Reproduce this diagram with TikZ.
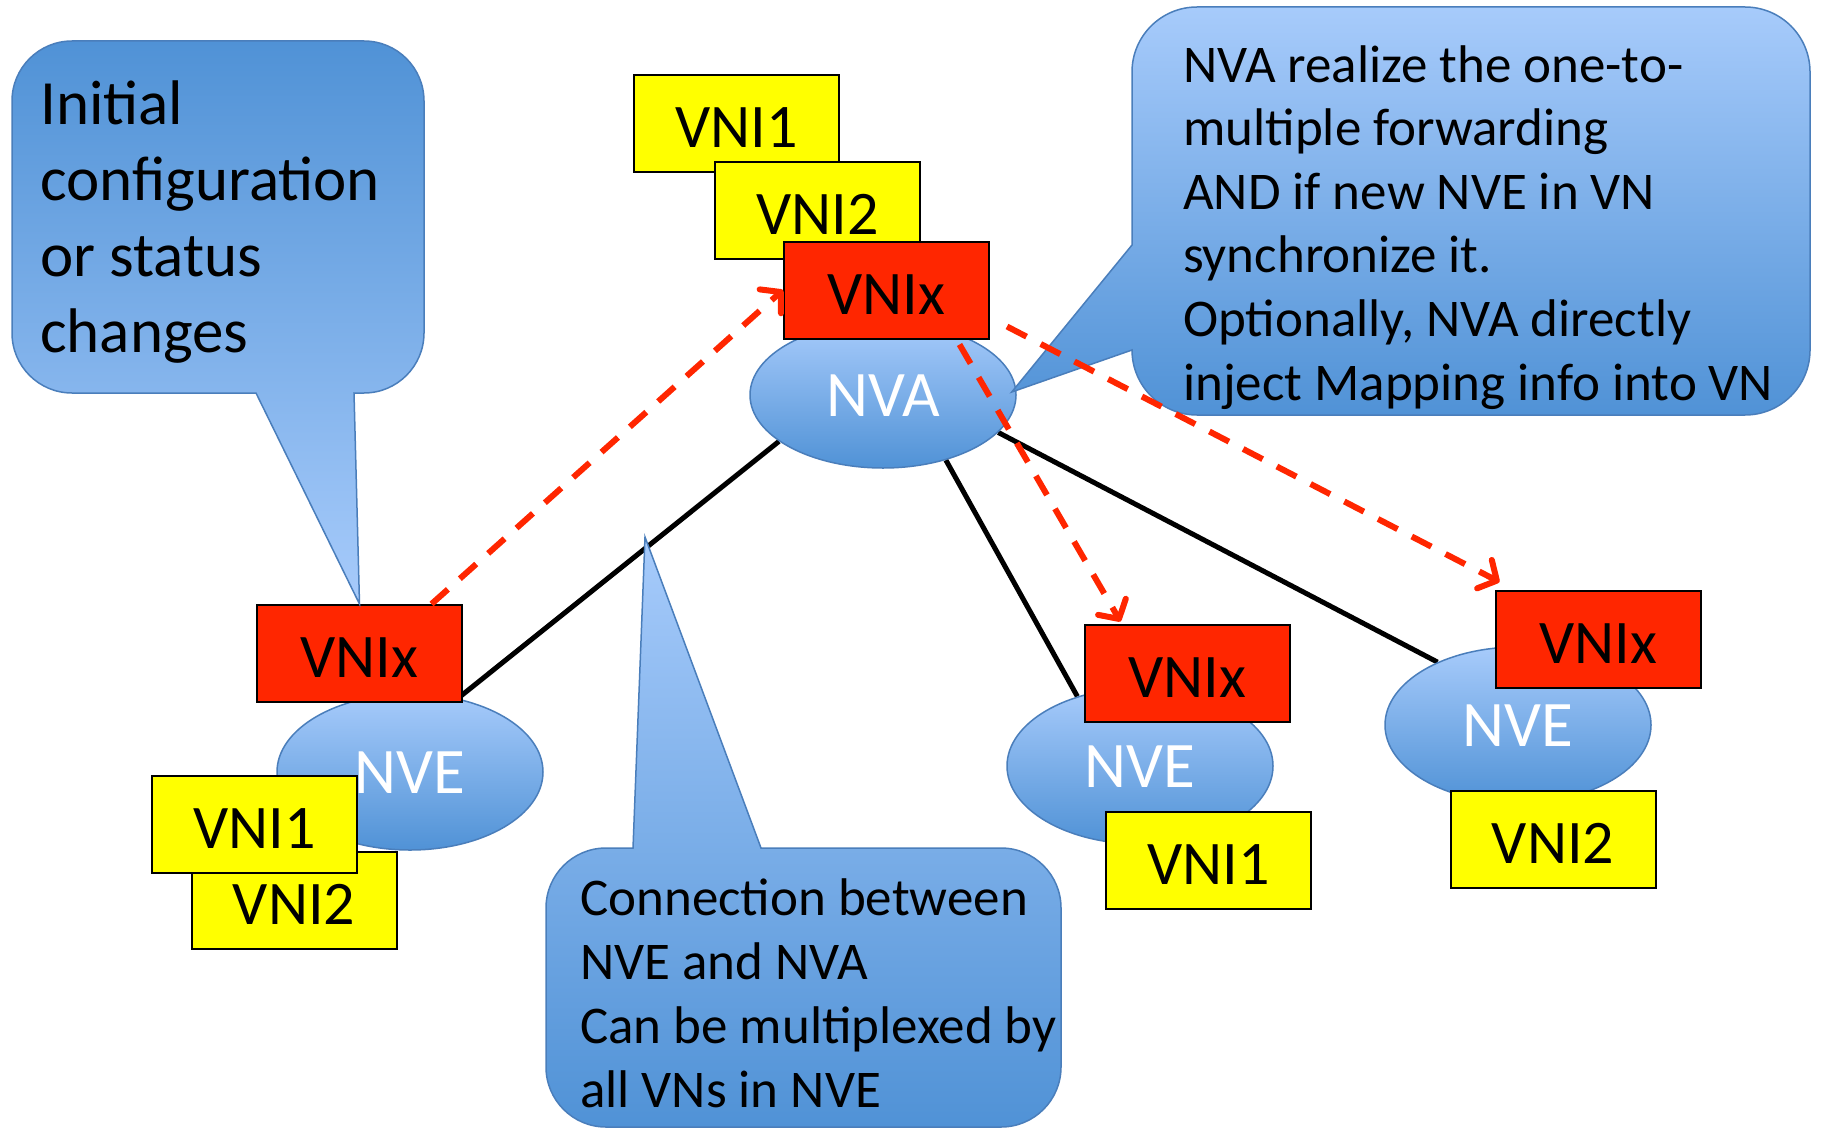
\documentclass[tikz,border=0pt]{standalone}
\usepackage{fontspec}
\setmainfont{Carlito}
\usetikzlibrary{arrows.meta,calc,shapes.geometric}

\definecolor{bubblelight}{RGB}{167,203,251}
\definecolor{bubbledark}{RGB}{80,146,214}
\definecolor{bubbleedge}{RGB}{74,126,187}
\definecolor{vnred}{RGB}{255,38,0}
\definecolor{vnyellow}{RGB}{255,255,0}

\pgfdeclarelayer{background}
\pgfsetlayers{background,main}

\begin{document}
\begin{tikzpicture}[x=1pt,y=-1pt,
  vnibox/.style={draw=black, line width=2pt, minimum width=205pt, minimum height=97pt,
    inner sep=0pt, font=\fontsize{62}{62}\selectfont, text height=48pt, text depth=0pt},
  vniyellow/.style={vnibox, fill=vnyellow},
  vnired/.style={vnibox, fill=vnred},
  device/.style={ellipse, draw=bubbleedge, line width=1.5pt, top color=bubblelight,
    bottom color=bubbledark, minimum width=266pt, minimum height=156pt, inner sep=0pt,
    text=white, font=\fontsize{65}{65}\selectfont, text height=42pt, text depth=0pt},
  link/.style={line width=5pt, black},
  flow/.style={vnred, line width=6pt, dash pattern=on 22pt off 16pt,
    -{Straight Barb[length=14pt,width=32pt,round]}},
  bubble/.style={draw=bubbleedge, line width=1.5pt},
  bubbletext/.style={anchor=base west, align=left, inner sep=0pt, text=black},
]
\useasboundingbox (0,0) rectangle (1822,1132);

% NVA with its VNI stack
\node[device, minimum height=146pt] (nva) at (883,395) {NVA};
\node[vniyellow] (vni1T) at (736.5,123.5) {VNI1};
\node[vniyellow] (vni2T) at (817.5,210.5) {VNI2};
\node[vnired]    (vnixT) at (886.5,290) {VNIx};

% NVE on the left
\node[device] (nveL) at (410,772) {NVE};
\node[vnired]    (vnixL) at (359.5,653.5) {VNIx};
\node[vniyellow] (vni2L) at (294,900) {VNI2};
\node[vniyellow] (vni1L) at (254.5,824.5) {VNI1};

% NVE in the middle
\node[device] (nveM) at (1140,766) {NVE};
\node[vnired]    (vnixM) at (1187.5,673) {VNIx};
\node[vniyellow] (vni1M) at (1208.5,860.5) {VNI1};

% NVE on the right
\node[device] (nveR) at (1518,725) {NVE};
\node[vnired]    (vnixR) at (1598,639.5) {VNIx};
\node[vniyellow] (vni2R) at (1553,839.5) {VNI2};

% page background and NVE--NVA connections
\begin{pgfonlayer}{background}
  \fill[white] (0,0) rectangle (1822,1132);
  \draw[link] (nveL.57) -- (nva.204);
  \draw[link] (nva.314) -- (nveM.132);
  \draw[link] (nva.342) -- (nveR.142);
\end{pgfonlayer}

% callout: configuration change
\path[bubble, top color=bubbledark, bottom color=bubblelight]
  (72,41) -- (364,41) arc[start angle=270,end angle=360,radius=60]
  -- (424,333) arc[start angle=0,end angle=90,radius=60]
  -- (354,393) -- (vnixL.north) -- (256,393)
  -- (72,393) arc[start angle=90,end angle=180,radius=60]
  -- (12,101) arc[start angle=180,end angle=270,radius=60] -- cycle;
\node[bubbletext, font=\fontsize{63}{76}\selectfont] (initText) at (40,352)
  {Initial\\configuration\\or status\\changes};

% callout: connection multiplexing
\coordinate (tipB) at (645,537);
\path[bubble, top color=bubblelight, bottom color=bubbledark]
  (606,848) -- (633,848) -- (tipB) -- (761,848)
  -- (1001,848) arc[start angle=270,end angle=360,radius=60]
  -- (1061,1067) arc[start angle=0,end angle=90,radius=60]
  -- (606,1127) arc[start angle=90,end angle=180,radius=60]
  -- (546,908) arc[start angle=180,end angle=270,radius=60] -- cycle;
\node[bubbletext, font=\fontsize{53}{64}\selectfont] (linkText) at (580,1107)
  {Connection between\\NVE and NVA\\Can be multiplexed by\\all VNs in NVE};

% callout: NVA forwarding
\coordinate (tipR) at ($(nva.east)+(-5,-3)$);
\path[bubble, top color=bubblelight, bottom color=bubbledark]
  (1197,7) -- (1745,7) arc[start angle=270,end angle=360,radius=65]
  -- (1810,350) arc[start angle=0,end angle=90,radius=65]
  -- (1197,415) arc[start angle=90,end angle=180,radius=65]
  -- (1132,350) -- (tipR) -- (1132,245)
  -- (1132,72) arc[start angle=180,end angle=270,radius=65] -- cycle;
\node[bubbletext, font=\fontsize{53}{63.6}\selectfont] (nvaText) at (1183,400)
  {NVA realize the one-to-\\multiple forwarding\\AND if new NVE in VN\\synchronize it.\\Optionally, NVA directly\\inject Mapping info into VN};

% VNIx updates
\draw[flow] ($(vnixL.north)+(72,0)$) -- (vnixT.west);
\draw[flow] ($(vnixT.south)+(73,5)$) -- ($(vnixM.north)+(-67,-2)$);
\draw[flow] ($(vnixT.south east)+(17,-13)$) -- ($(vnixR.north west)+(5,-8)$);
\end{tikzpicture}
\end{document}
